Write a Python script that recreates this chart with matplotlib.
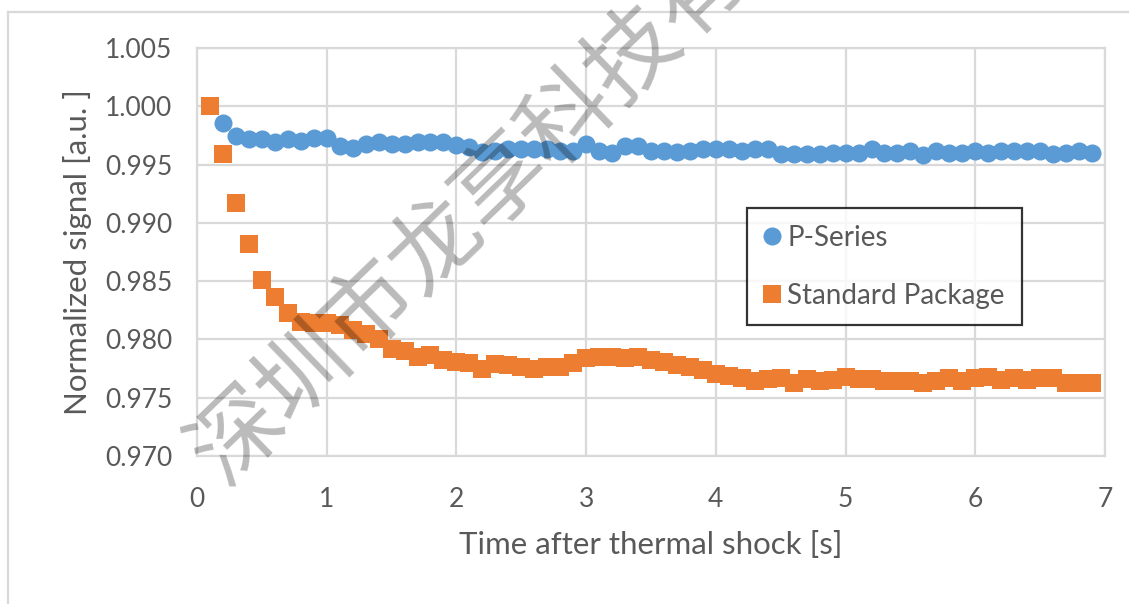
import numpy as np;
import matplotlib;
matplotlib.use("Agg");
import matplotlib.pyplot as plt;
from matplotlib.lines import Line2D;

# data
time_standard = np.round(np.arange(1, 70)*0.1, 1);
signal_standard = [1.0000, 0.9959, 0.9917, 0.9882, 0.9851, 0.9836, 0.9823, 0.9815, 0.9814, 0.9814,
	0.9812, 0.9808, 0.9805, 0.9800, 0.9792, 0.9790, 0.9785, 0.9787, 0.9782, 0.9781,
	0.9780, 0.9775, 0.9779, 0.9778, 0.9776, 0.9775, 0.9776, 0.9776, 0.9780, 0.9784,
	0.9785, 0.9785, 0.9784, 0.9785, 0.9782, 0.9781, 0.9778, 0.9776, 0.9774, 0.9770,
	0.9769, 0.9767, 0.9764, 0.9766, 0.9767, 0.9763, 0.9766, 0.9764, 0.9765, 0.9768,
	0.9766, 0.9766, 0.9764, 0.9764, 0.9764, 0.9763, 0.9764, 0.9767, 0.9764, 0.9767,
	0.9768, 0.9765, 0.9767, 0.9765, 0.9767, 0.9767, 0.9763, 0.9763, 0.9763];
time_p = np.round(np.arange(2, 70)*0.1, 1);
signal_p = [0.99857, 0.99745, 0.9972, 0.9972, 0.9969, 0.9972, 0.9970, 0.9973, 0.9973,
	0.9966, 0.9964, 0.9968, 0.9969, 0.9968, 0.9968, 0.9969, 0.9969, 0.9969, 0.9967,
	0.9965, 0.9961, 0.9962, 0.9963, 0.9963, 0.9963, 0.9963, 0.9962, 0.9962, 0.9968,
	0.9962, 0.9960, 0.9966, 0.9966, 0.9962, 0.9962, 0.9961, 0.9962, 0.9963, 0.9963,
	0.9963, 0.9962, 0.9963, 0.9963, 0.9959, 0.9959, 0.9959, 0.9959, 0.9960, 0.9960,
	0.9960, 0.9963, 0.9960, 0.9960, 0.9962, 0.9958, 0.9962, 0.9960, 0.9960, 0.9962,
	0.9960, 0.9962, 0.9962, 0.9962, 0.9962, 0.9959, 0.9960, 0.9962, 0.9960];
x_ticks = [0, 1, 2, 3, 4, 5, 6, 7];
y_ticks = [0.970, 0.975, 0.980, 0.985, 0.990, 0.995, 1.000, 1.005];
watermark = "深圳市龙享科技有限公司";

grid_color = "#d9d9d9";
text_color = "#595959";
plt.rcParams["font.family"] = ["Lato", "DejaVu Sans"];

fig = plt.figure(figsize = (11.29, 6.04), dpi = 100);
ax = fig.add_axes([197/1129, 1 - 456/604, (1105 - 197)/1129, (456 - 48)/604]);

ax.plot(time_p, signal_p, "o", color = "#5b9bd5", markersize = 13, markeredgewidth = 0, label = "P-Series", zorder = 3);
ax.plot(time_standard, signal_standard, "s", color = "#ed7d31", markersize = 12.5, markeredgewidth = 0, label = "Standard Package", zorder = 3);

ax.set_xlim(0, 7);
ax.set_ylim(0.970, 1.005);
ax.set_xticks(x_ticks);
ax.set_yticks(y_ticks);
ax.set_yticklabels(["%.3f" % v for v in y_ticks]);
ax.grid(True, color = grid_color, linewidth = 1.6, zorder = 0);
ax.set_axisbelow(True);
for s in ax.spines.values():
	s.set_color(grid_color);
	s.set_linewidth(1.6);
ax.tick_params(length = 0, labelsize = 19, colors = text_color);
ax.tick_params(axis = "y", pad = 18);
ax.tick_params(axis = "x", pad = 22);
ax.set_xlabel("Time after thermal shock [s]", fontsize = 22.5, color = text_color, labelpad = 14);
ax.set_ylabel("Normalized signal [a.u. ]", fontsize = 22.5, color = text_color, labelpad = 9);

leg = ax.legend(loc = "upper left", bbox_to_anchor = (747/1129, 1 - 208/604, 275/1129, 0), bbox_transform = fig.transFigure,
	mode = "expand", borderaxespad = 0, fontsize = 20, frameon = True, fancybox = False,
	labelspacing = 1.15, handletextpad = 0.25, borderpad = 0.6, handlelength = 0.6);
leg.get_frame().set_edgecolor("black");
leg.get_frame().set_linewidth(1.6);
for t in leg.get_texts():
	t.set_color(text_color);

# outer chart border (top and left only visible)
fig.add_artist(Line2D([8/1129, 1], [1 - 12/604, 1 - 12/604], color = grid_color, linewidth = 1.6));
fig.add_artist(Line2D([8/1129, 8/1129], [0, 1 - 12/604], color = grid_color, linewidth = 1.6));

# watermark
fig.text(206/1129, 1 - 469/604, watermark, rotation = 44, rotation_mode = "anchor", ha = "left", va = "center",
	fontsize = 66, family = ["Noto Sans CJK SC", "DejaVu Sans"], fontweight = "light", color = "black", alpha = 0.27, zorder = 10);

fig.savefig("out.png", dpi = 100);
plt.close();
